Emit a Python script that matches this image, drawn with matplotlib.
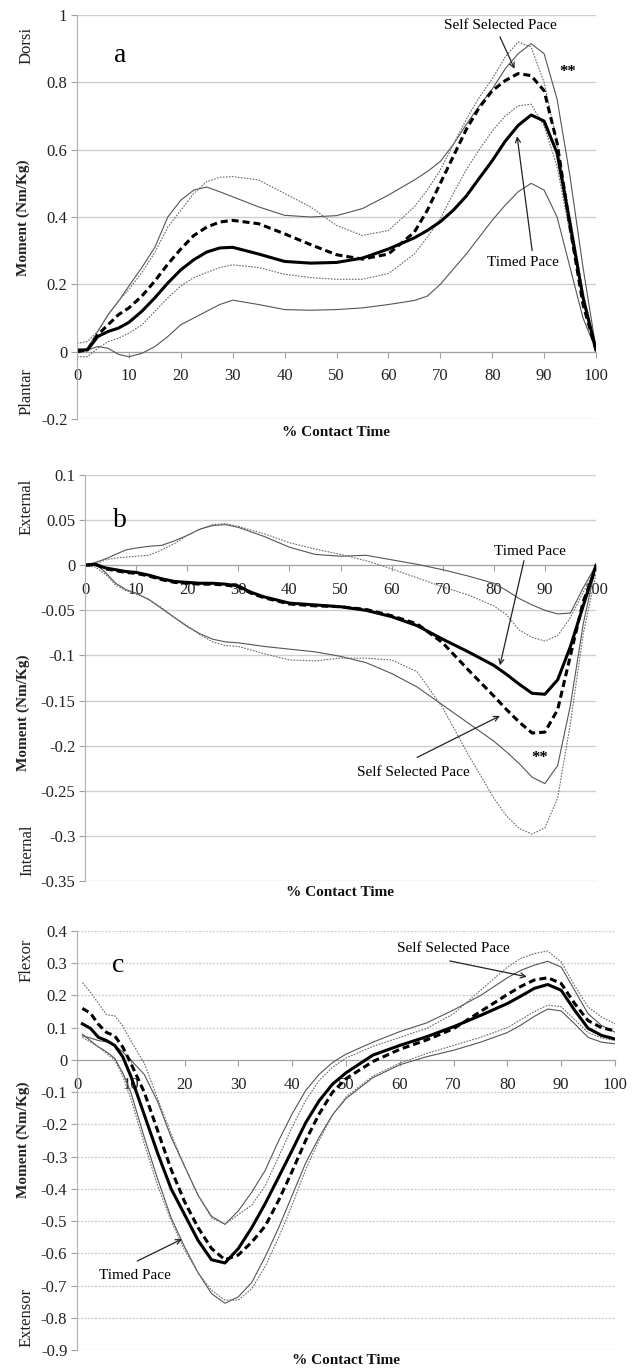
import matplotlib
matplotlib.use("Agg")
import matplotlib.pyplot as plt

plt.rcParams['font.family'] = ['Liberation Serif', 'DejaVu Serif']

# ---------------- data ----------------
# panel a - sagittal (dorsi / plantar)
xa = [0, 2, 4, 6, 8, 10, 12.5, 15, 17.5, 20, 22.5, 25, 27.5, 30, 35, 40, 45, 50,
      55, 60, 65, 67.5, 70, 72.5, 75, 77.5, 80, 82.5, 85, 87.5, 90, 92.5, 95, 97.5, 100]
a_timed = [0.005, 0.005, 0.045, 0.06, 0.07, 0.087, 0.12, 0.16, 0.204, 0.243, 0.273, 0.296,
           0.308, 0.31, 0.29, 0.268, 0.263, 0.265, 0.278, 0.305, 0.338, 0.36, 0.386, 0.42,
           0.462, 0.515, 0.567, 0.625, 0.672, 0.703, 0.685, 0.59, 0.38, 0.16, 0.005]
a_self = [0.0, 0.005, 0.05, 0.08, 0.11, 0.13, 0.165, 0.21, 0.26, 0.305, 0.345, 0.37,
          0.385, 0.39, 0.38, 0.35, 0.318, 0.288, 0.275, 0.29, 0.355, 0.42, 0.5, 0.58,
          0.66, 0.725, 0.775, 0.805, 0.826, 0.82, 0.775, 0.62, 0.37, 0.14, 0.005]
a_timed_hi = [0.0, 0.01, 0.06, 0.11, 0.15, 0.195, 0.25, 0.31, 0.4, 0.45, 0.48, 0.489,
              0.475, 0.46, 0.43, 0.405, 0.4, 0.404, 0.425, 0.465, 0.51, 0.535, 0.565, 0.615,
              0.675, 0.73, 0.78, 0.84, 0.885, 0.915, 0.885, 0.75, 0.52, 0.25, 0.01]
a_timed_lo = [0.0, 0.005, 0.015, 0.01, -0.008, -0.015, -0.005, 0.015, 0.045, 0.08, 0.1, 0.12,
              0.14, 0.153, 0.14, 0.125, 0.123, 0.125, 0.13, 0.14, 0.152, 0.165, 0.2, 0.245,
              0.29, 0.34, 0.39, 0.435, 0.475, 0.5, 0.48, 0.4, 0.25, 0.1, 0.005]
a_self_hi = [0.025, 0.03, 0.06, 0.11, 0.15, 0.185, 0.235, 0.295, 0.37, 0.42, 0.47, 0.505,
             0.518, 0.52, 0.51, 0.47, 0.43, 0.375, 0.345, 0.36, 0.43, 0.48, 0.54, 0.615,
             0.69, 0.755, 0.81, 0.875, 0.92, 0.905, 0.8, 0.62, 0.4, 0.18, 0.01]
a_self_lo = [-0.015, -0.015, 0.01, 0.03, 0.04, 0.055, 0.08, 0.12, 0.16, 0.195, 0.22, 0.235,
             0.25, 0.258, 0.25, 0.23, 0.22, 0.215, 0.215, 0.232, 0.29, 0.34, 0.395, 0.47,
             0.54, 0.6, 0.655, 0.7, 0.73, 0.735, 0.67, 0.55, 0.35, 0.16, 0.01]

# panel b - frontal (external / internal)
xb = [0, 2, 4, 6, 8, 10, 12.5, 15, 17.5, 20, 22.5, 25, 27.5, 30, 32.5, 35, 40, 45, 50,
      55, 60, 65, 70, 75, 80, 82.5, 85, 87.5, 90, 92.5, 95, 97.5, 100]
b_timed = [0, 0.001, -0.003, -0.005, -0.007, -0.008, -0.011, -0.015, -0.018, -0.019, -0.02,
           -0.02, -0.021, -0.023, -0.03, -0.035, -0.042, -0.044, -0.046, -0.05, -0.057,
           -0.067, -0.082, -0.096, -0.111, -0.121, -0.132, -0.142, -0.143, -0.127, -0.09,
           -0.045, 0.0]
b_self = [0, 0.001, -0.004, -0.006, -0.008, -0.009, -0.012, -0.016, -0.019, -0.02, -0.021,
          -0.021, -0.022, -0.024, -0.031, -0.036, -0.043, -0.045, -0.046, -0.049, -0.056,
          -0.065, -0.086, -0.116, -0.145, -0.16, -0.174, -0.186, -0.185, -0.16, -0.1,
          -0.04, -0.003]
b_timed_hi = [0, 0.003, 0.007, 0.012, 0.017, 0.019, 0.021, 0.022, 0.027, 0.033, 0.04, 0.044,
              0.045, 0.042, 0.037, 0.032, 0.02, 0.012, 0.01, 0.011, 0.006, 0.001, -0.005,
              -0.012, -0.02, -0.028, -0.037, -0.044, -0.05, -0.054, -0.053, -0.025, 0.0]
b_timed_lo = [0, 0.002, -0.008, -0.02, -0.027, -0.031, -0.038, -0.048, -0.058, -0.068, -0.076,
              -0.082, -0.085, -0.086, -0.088, -0.09, -0.093, -0.096, -0.101, -0.108, -0.12,
              -0.135, -0.155, -0.175, -0.195, -0.207, -0.22, -0.235, -0.242, -0.222, -0.155,
              -0.065, 0.0]
b_self_hi = [0, 0.001, 0.006, 0.008, 0.009, 0.01, 0.011, 0.017, 0.024, 0.033, 0.04, 0.045,
             0.046, 0.043, 0.039, 0.035, 0.025, 0.018, 0.012, 0.005, -0.004, -0.014, -0.024,
             -0.033, -0.045, -0.055, -0.072, -0.08, -0.084, -0.078, -0.058, -0.03, -0.003]
b_self_lo = [0, -0.002, -0.01, -0.022, -0.028, -0.032, -0.038, -0.047, -0.058, -0.067, -0.077,
             -0.085, -0.089, -0.09, -0.094, -0.098, -0.105, -0.106, -0.103, -0.103, -0.105,
             -0.118, -0.158, -0.21, -0.258, -0.278, -0.292, -0.298, -0.291, -0.258, -0.175,
             -0.076, -0.01]

# panel c - transverse (flexor / extensor)
xc = [1, 2.5, 4, 5.5, 7, 8.5, 10, 12.5, 15, 17.5, 20, 22.5, 25, 27.5, 30, 32.5, 35, 37.5,
      40, 42.5, 45, 47.5, 50, 55, 60, 65, 70, 75, 80, 82.5, 85, 87.5, 90, 92.5, 95, 97.5, 100]
c_timed = [0.112, 0.098, 0.07, 0.06, 0.045, 0.01, -0.05, -0.17, -0.29, -0.4, -0.48, -0.56,
           -0.62, -0.63, -0.585, -0.52, -0.445, -0.363, -0.28, -0.195, -0.127, -0.075, -0.04,
           0.015, 0.045, 0.072, 0.103, 0.138, 0.175, 0.198, 0.222, 0.234, 0.216, 0.154,
           0.098, 0.076, 0.065]
c_self = [0.16, 0.145, 0.11, 0.085, 0.075, 0.04, -0.01, -0.1, -0.22, -0.34, -0.44, -0.52,
          -0.585, -0.62, -0.605, -0.565, -0.515, -0.435, -0.345, -0.25, -0.168, -0.1, -0.058,
          -0.005, 0.033, 0.062, 0.097, 0.15, 0.203, 0.228, 0.248, 0.255, 0.237, 0.175,
          0.122, 0.1, 0.09]
c_timed_hi = [0.075, 0.068, 0.06, 0.056, 0.045, 0.025, 0.0, -0.045, -0.13, -0.24, -0.33,
              -0.42, -0.485, -0.51, -0.468, -0.41, -0.342, -0.25, -0.167, -0.095, -0.045,
              -0.008, 0.018, 0.055, 0.088, 0.115, 0.155, 0.2, 0.255, 0.278, 0.294, 0.306,
              0.288, 0.216, 0.143, 0.107, 0.086]
c_timed_lo = [0.08, 0.06, 0.04, 0.025, 0.005, -0.04, -0.1, -0.24, -0.37, -0.49, -0.58, -0.66,
              -0.725, -0.755, -0.735, -0.69, -0.61, -0.52, -0.42, -0.32, -0.24, -0.17, -0.12,
              -0.055, -0.015, 0.01, 0.03, 0.055, 0.085, 0.108, 0.135, 0.158, 0.152, 0.112,
              0.07, 0.055, 0.05]
c_self_hi = [0.24, 0.21, 0.175, 0.14, 0.137, 0.105, 0.06, -0.01, -0.12, -0.23, -0.33, -0.42,
             -0.49, -0.51, -0.48, -0.45, -0.39, -0.3, -0.208, -0.126, -0.064, -0.023, 0.006,
             0.042, 0.07, 0.098, 0.143, 0.216, 0.288, 0.315, 0.33, 0.338, 0.304, 0.23,
             0.164, 0.133, 0.112]
c_self_lo = [0.07, 0.055, 0.04, 0.02, 0.0, -0.05, -0.12, -0.26, -0.39, -0.5, -0.59, -0.66,
             -0.715, -0.745, -0.745, -0.71, -0.64, -0.55, -0.45, -0.34, -0.25, -0.17, -0.115,
             -0.05, -0.01, 0.02, 0.045, 0.07, 0.1, 0.125, 0.15, 0.17, 0.165, 0.125, 0.085,
             0.068, 0.06]

x_ticks = [0, 10, 20, 30, 40, 50, 60, 70, 80, 90, 100]
x_labels = ['0', '10', '20', '30', '40', '50', '60', '70', '80', '90', '100']
ya_ticks = [-0.2, 0, 0.2, 0.4, 0.6, 0.8, 1.0]
ya_labels = ['-0.2', '0', '0.2', '0.4', '0.6', '0.8', '1']
yb_ticks = [-0.35, -0.3, -0.25, -0.2, -0.15, -0.1, -0.05, 0, 0.05, 0.1]
yb_labels = ['-0.35', '-0.3', '-0.25', '-0.2', '-0.15', '-0.1', '-0.05', '0', '0.05', '0.1']
yc_ticks = [-0.9, -0.8, -0.7, -0.6, -0.5, -0.4, -0.3, -0.2, -0.1, 0, 0.1, 0.2, 0.3, 0.4]
yc_labels = ['-0.9', '-0.8', '-0.7', '-0.6', '-0.5', '-0.4', '-0.3', '-0.2', '-0.1',
             '0', '0.1', '0.2', '0.3', '0.4']

W, H = 638, 1368
fig = plt.figure(figsize=(W / 100, H / 100), dpi=100)


def px_axes(left, right, top, bottom):
    return fig.add_axes([left / W, 1 - bottom / H, (right - left) / W, (bottom - top) / H])


def style_axes(ax, yticks, ylabels, ylim, grid_ls):
    ax.set_xlim(0, 100)
    ax.set_ylim(*ylim)
    ax.set_xticks(x_ticks, x_labels)
    ax.set_yticks(yticks, ylabels)
    for s in ('top', 'right'):
        ax.spines[s].set_visible(False)
    ax.spines['bottom'].set_position(('data', 0))
    ax.spines['bottom'].set_color('#a0a0a0')
    ax.spines['left'].set_color('#b0b0b0')
    ax.spines['bottom'].set_zorder(1)
    ax.tick_params(axis='both', labelsize=12, colors='#a0a0a0', labelcolor='#222222',
                   direction='out', length=4, width=0.8)
    ax.tick_params(axis='x', pad=8)
    ax.tick_params(axis='y', pad=3)
    ax.yaxis.grid(True, color='#cfcfcf', lw=1.0, ls=grid_ls)
    ax.set_axisbelow(True)


def draw_set(ax, x, timed, self_, t_hi, t_lo, s_hi, s_lo):
    thin = dict(color='#555555', lw=0.8)
    dots = dict(color='#6a6a6a', lw=0.8, ls=(0, (1.5, 1.2)))
    ax.plot(x, t_hi, **thin)
    ax.plot(x, t_lo, **thin)
    ax.plot(x, s_hi, **dots)
    ax.plot(x, s_lo, **dots)
    ax.plot(x, self_, color='black', lw=2.2, ls=(0, (2.3, 1.3)))
    ax.plot(x, timed, color='black', lw=2.2)


def arrow(ax, tail, tip):
    ax.annotate('', xy=tip, xytext=tail,
                arrowprops=dict(arrowstyle='->', lw=0.9, color='#222222',
                                shrinkA=0, shrinkB=0, mutation_scale=9))


def side_text(x, y, s, bold=False, size=12):
    fig.text(x / W, 1 - y / H, s, rotation=90, ha='center', va='center',
             fontsize=size, fontweight='bold' if bold else 'normal', color='#222222')


# ---------------- panel a ----------------
ax1 = px_axes(77, 596, 15, 419)
style_axes(ax1, ya_ticks, ya_labels, (-0.2, 1.0), '-')
draw_set(ax1, xa, a_timed, a_self, a_timed_hi, a_timed_lo, a_self_hi, a_self_lo)
ax1.text(8.3, 0.88, 'a', fontsize=20, ha='center', va='center')
ax1.text(81.5, 0.97, 'Self Selected Pace', fontsize=11, ha='center', va='center')
arrow(ax1, (81.5, 0.935), (84.3, 0.84))
ax1.text(94.6, 0.83, '**', fontsize=12, ha='center', va='center', fontweight='bold')
ax1.text(85.9, 0.264, 'Timed Pace', fontsize=11, ha='center', va='center')
arrow(ax1, (87.7, 0.30), (84.8, 0.64))

# ---------------- panel b ----------------
ax2 = px_axes(85, 596, 475, 881)
style_axes(ax2, yb_ticks, yb_labels, (-0.35, 0.1), '-')
draw_set(ax2, xb, b_timed, b_self, b_timed_hi, b_timed_lo, b_self_hi, b_self_lo)
ax2.text(6.8, 0.05, 'b', fontsize=20, ha='center', va='center')
ax2.text(87.1, 0.0156, 'Timed Pace', fontsize=11, ha='center', va='center')
arrow(ax2, (85.9, 0.005), (81.2, -0.111))
ax2.text(64.2, -0.23, 'Self Selected Pace', fontsize=11, ha='center', va='center')
arrow(ax2, (65.0, -0.213), (81.2, -0.167))
ax2.text(89.0, -0.214, '**', fontsize=12, ha='center', va='center', fontweight='bold')

# ---------------- panel c ----------------
ax3 = px_axes(77, 615, 931, 1350)
style_axes(ax3, yc_ticks, yc_labels, (-0.9, 0.4), (0, (1.5, 1.0)))
draw_set(ax3, xc, c_timed, c_self, c_timed_hi, c_timed_lo, c_self_hi, c_self_lo)
ax3.text(7.6, 0.292, 'c', fontsize=20, ha='center', va='center')
ax3.text(69.9, 0.345, 'Self Selected Pace', fontsize=11, ha='center', va='center')
arrow(ax3, (69.3, 0.307), (83.6, 0.258))
ax3.text(10.8, -0.668, 'Timed Pace', fontsize=11, ha='center', va='center')
arrow(ax3, (11.2, -0.624), (19.5, -0.556))

# ---------------- side labels ----------------
side_text(27, 45, 'Dorsi')
side_text(27, 392, 'Plantar')
side_text(23, 218, 'Moment (Nm/Kg)', bold=True, size=11)
side_text(27, 507, 'External')
side_text(27, 850, 'Internal')
side_text(23, 713, 'Moment (Nm/Kg)', bold=True, size=11)
side_text(27, 960, 'Flexor')
side_text(27, 1317, 'Extensor')
side_text(23, 1140, 'Moment (Nm/Kg)', bold=True, size=11)

for cx, cy in [(336, 432), (340, 893), (346, 1361)]:
    fig.text(cx / W, 1 - cy / H, '% Contact Time', ha='center', va='center',
             fontsize=11, fontweight='bold', color='#111111')

fig.savefig('out.png', dpi=100)
